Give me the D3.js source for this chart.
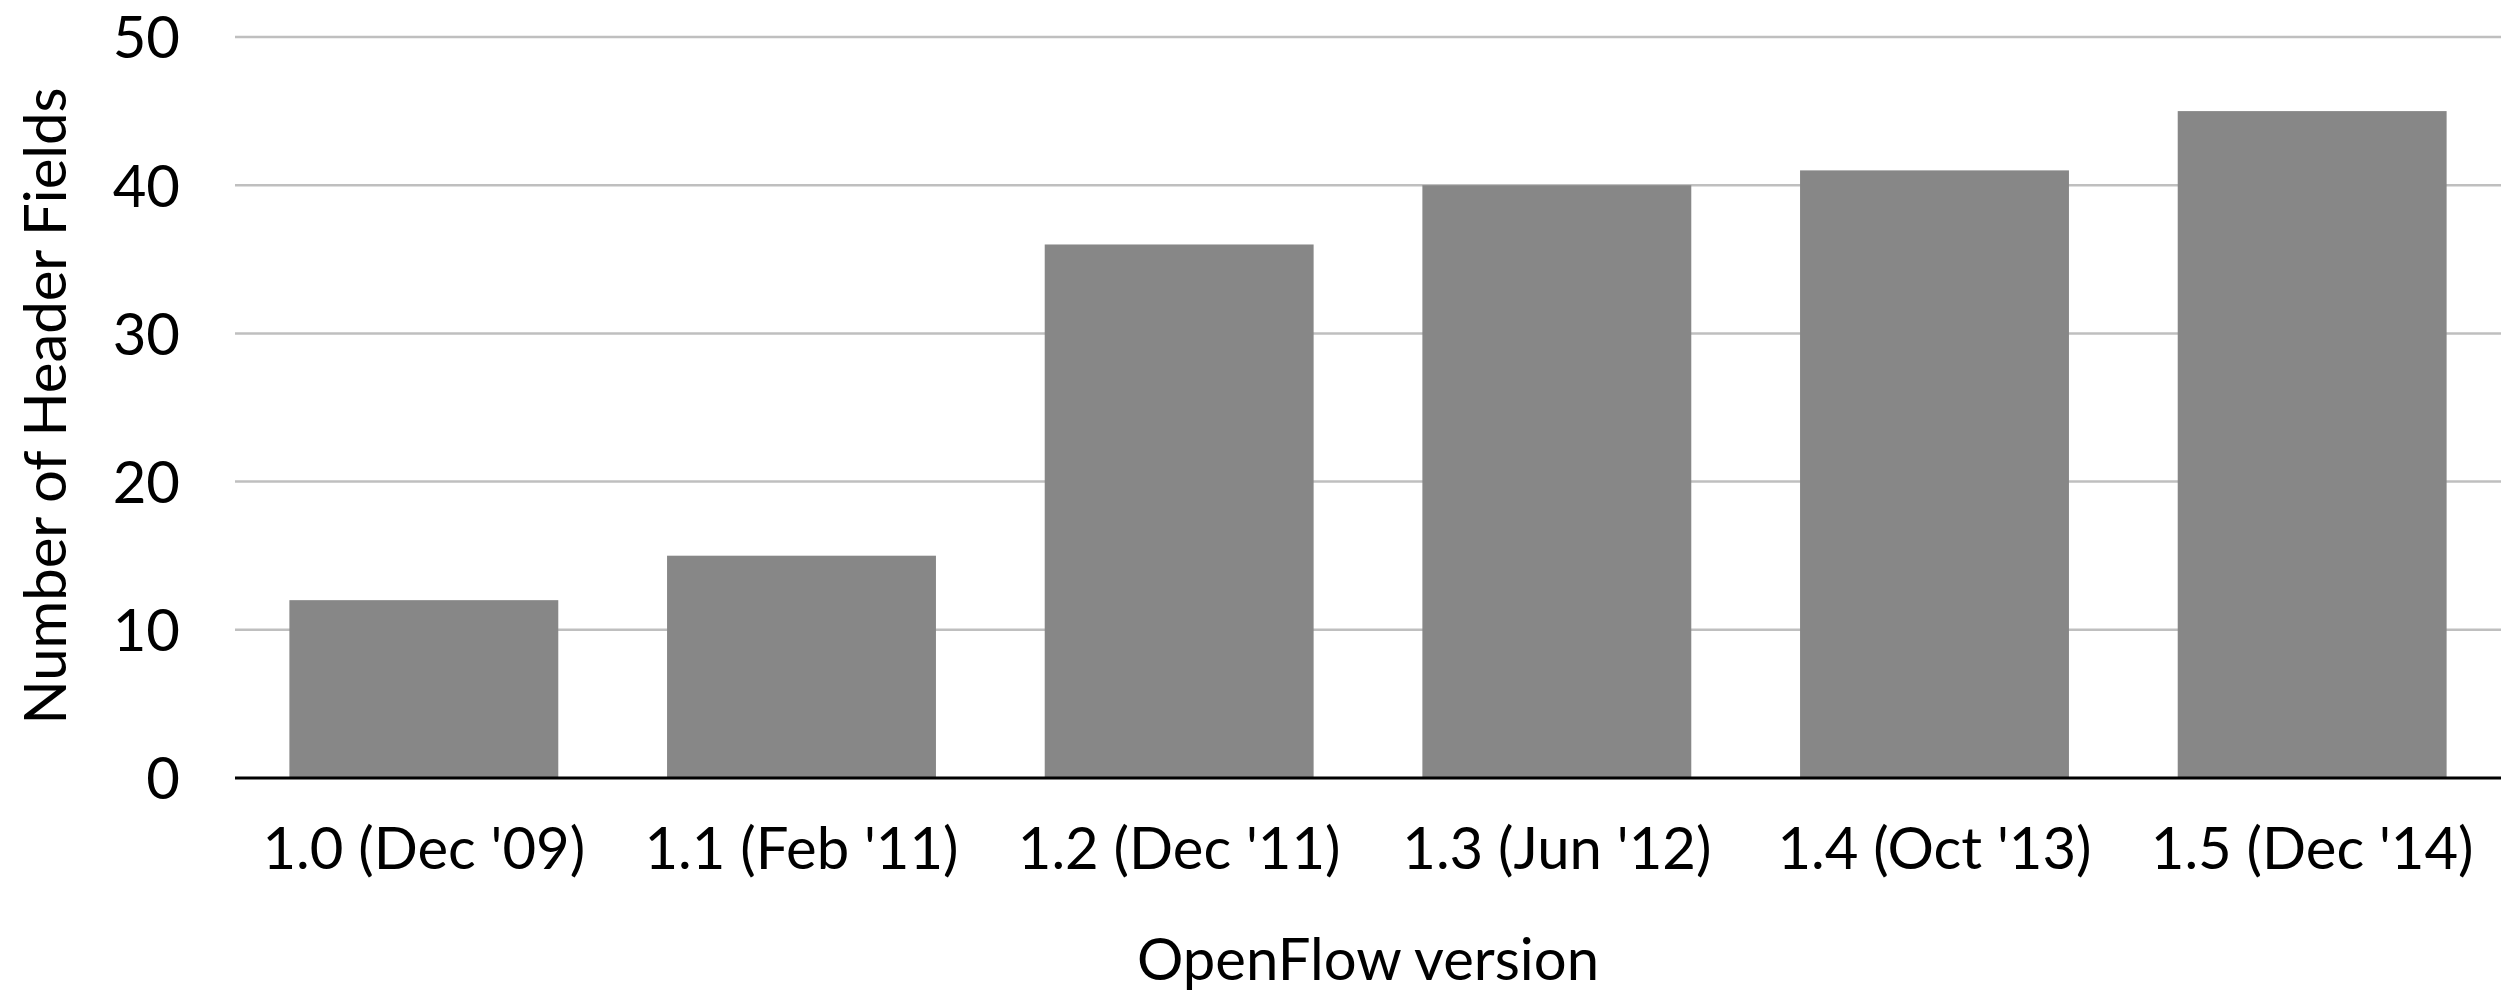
<!DOCTYPE html>
<html>
<head>
<meta charset="utf-8">
<script src="https://cdn.jsdelivr.net/npm/d3@7"></script>
<style>
  html, body { margin: 0; padding: 0; background: #fff; }
  svg text { font-family: Lato, "Open Sans", sans-serif; fill: #000; }
</style>
</head>
<body>
<div id="chartContainer"></div>
<script>
var versions = ["1.0 (Dec '09)", "1.1 (Feb '11)", "1.2 (Dec '11)", "1.3 (Jun '12)", "1.4 (Oct '13)", "1.5 (Dec '14)"]
var headerFields = [12, 15, 36, 40, 41, 45]
var yTicks = [0, 10, 20, 30, 40, 50]

var width = 2514, height = 992
var margin = { top: 37, right: 13, bottom: 214, left: 235 }

var svg = d3.select('#chartContainer').append('svg')
    .attr('width', width)
    .attr('height', height)

var xScale = d3.scaleBand()
    .domain(versions)
    .range([margin.left, width - margin.right])
    .paddingInner(0.288)
    .paddingOuter(0.144)

var yScale = d3.scaleLinear()
    .domain([0, 50])
    .range([height - margin.bottom, margin.top])

// gridlines
svg.append('g')
    .selectAll('line')
    .data(yTicks.filter(function(d) { return d > 0 }))
    .enter()
    .append('line')
    .attr('x1', margin.left)
    .attr('x2', width - margin.right)
    .attr('y1', function(d) { return yScale(d) })
    .attr('y2', function(d) { return yScale(d) })
    .style('stroke', '#bfbfbf')
    .style('stroke-width', 2.5)

// bars
svg.append('g')
    .selectAll('rect')
    .data(versions)
    .enter()
    .append('rect')
    .attr('x', function(d) { return xScale(d) })
    .attr('width', xScale.bandwidth())
    .attr('y', function(d, i) { return yScale(headerFields[i]) })
    .attr('height', function(d, i) { return yScale(0) - yScale(headerFields[i]) })
    .style('fill', '#878787')

// y axis (labels only)
var yAxis = d3.axisLeft(yScale).tickValues(yTicks).tickSize(0).tickPadding(55)
var yG = svg.append('g')
    .attr('transform', 'translate(' + margin.left + ',0)')
    .call(yAxis)
yG.select('.domain').remove()
yG.selectAll('text')
    .style('font-size', '58px')
    .attr('dy', '0.36em')

// x axis
var xAxis = d3.axisBottom(xScale).tickSize(0).tickPadding(50)
var xG = svg.append('g')
    .attr('transform', 'translate(0,' + yScale(0) + ')')
    .call(xAxis)
xG.select('.domain')
    .attr('d', 'M' + margin.left + ',0H' + (width - margin.right))
    .style('stroke', '#000')
    .style('stroke-width', 3)
xG.selectAll('text')
    .style('font-size', '58px')
    .attr('dy', '0.71em')

// axis titles
svg.append('text')
    .attr('x', (margin.left + width - margin.right) / 2)
    .attr('y', 980)
    .attr('text-anchor', 'middle')
    .style('font-size', '58px')
    .text('OpenFlow version')

svg.append('text')
    .attr('transform', 'translate(66,' + 406 + ') rotate(-90)')
    .attr('text-anchor', 'middle')
    .style('font-size', '58px')
    .text('Number of Header Fields')
</script>
</body>
</html>
